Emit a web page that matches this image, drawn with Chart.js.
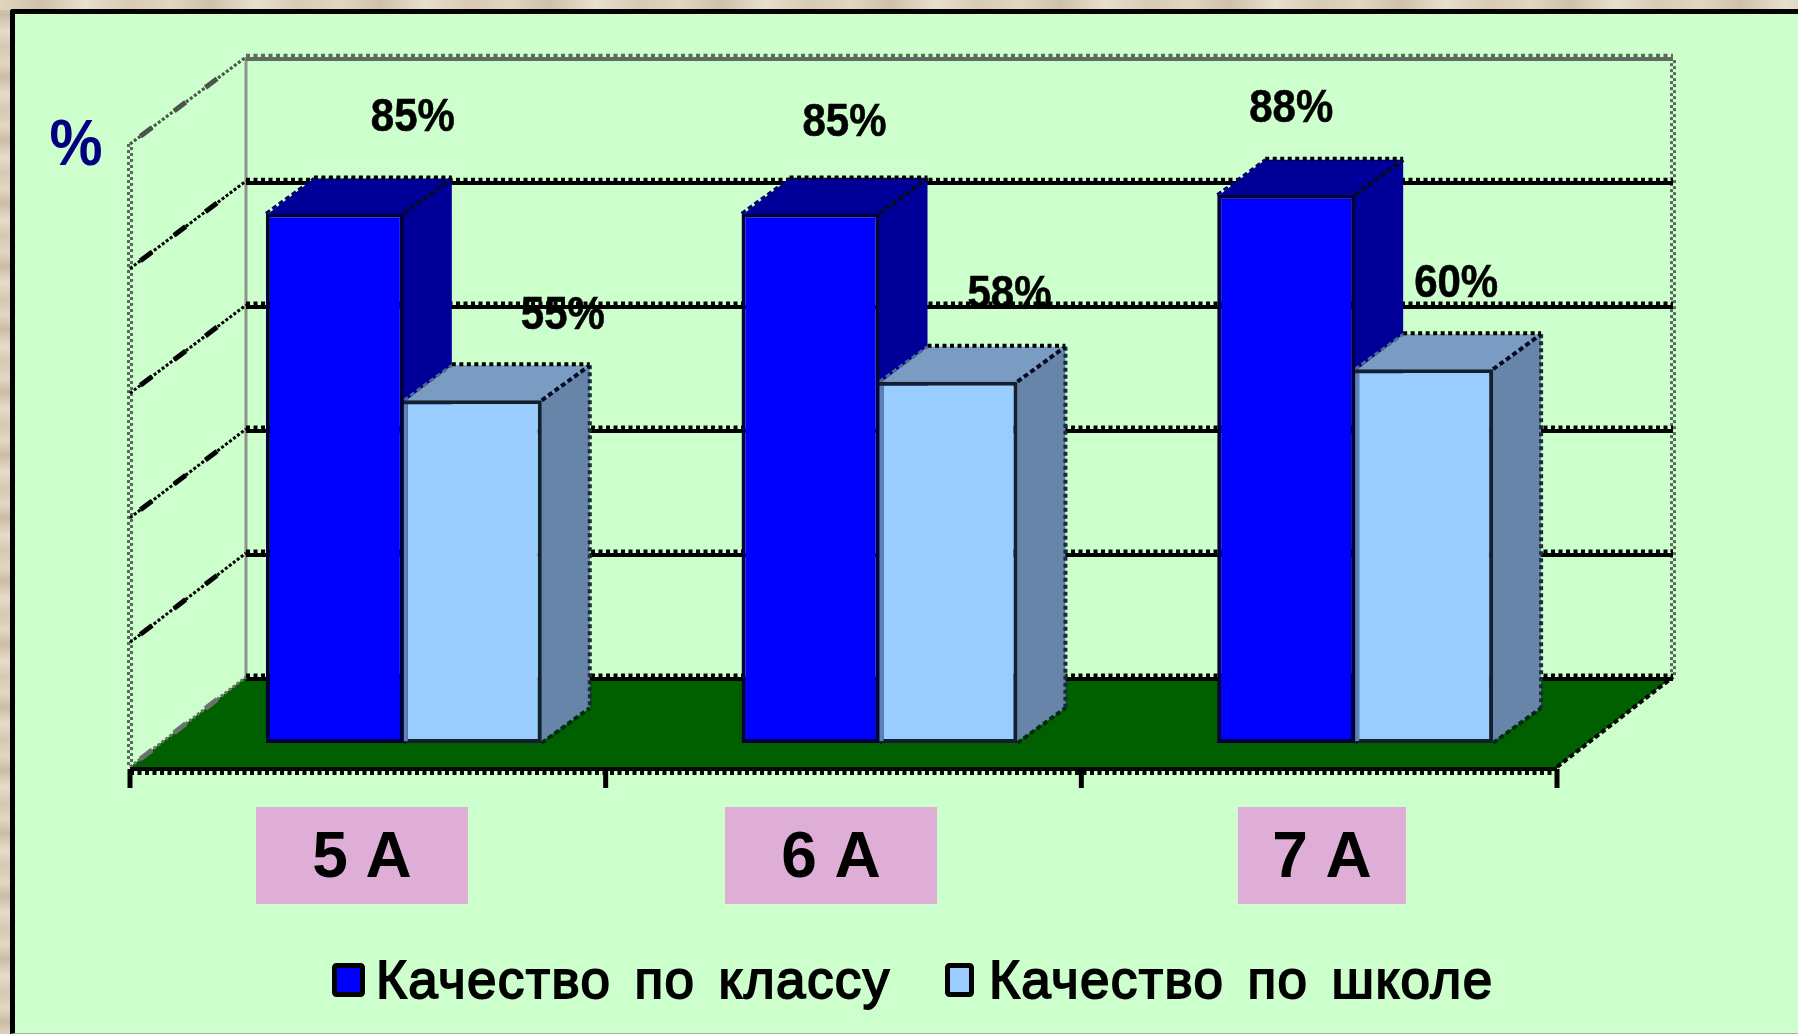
<!DOCTYPE html>
<html lang="ru">
<head>
  <meta charset="UTF-8">
  <title>Качество по классу</title>
  <script src="https://cdn.jsdelivr.net/npm/chart.js"></script>
  <style>
    html, body { margin: 0; height: 100%; overflow: hidden; }
    body {
      background: repeating-linear-gradient(180deg, #e3d7c3 0, #cbbca4 14px, #e6dcca 31px, #d6c8b1 47px, #e3d7c3 63px);
    }
    .top-strip {
      position: absolute;
      left: 0; right: 0; top: 0; height: 10px;
      background: repeating-linear-gradient(90deg, #e2d6c1 0, #cfc1aa 40px, #e8dfce 85px, #d8cab4 130px, #e2d6c1 170px);
    }
    .panel {
      position: absolute;
      left: 10px; top: 9px; right: 0; bottom: 0;
      background: #ccffcc;
      border-left: 5px solid #000;
      border-top: 5px solid #000;
      border-top-left-radius: 3px;
      border-bottom: 1px solid #a4b4a4;
    }
    canvas { position: absolute; left: 0; top: 0; }
  </style>
</head>
<body>
  <div class="top-strip"></div>
  <div class="panel"></div>
  <canvas id="chart" width="1798" height="1034"></canvas>

  <script>
    const categories = ["5 A", "6 A", "7 A"];
    const seriesNames = ["Качество по классу", "Качество по школе"];
    const classValues = [85, 85, 88];
    const schoolValues = [55, 58, 60];
    const gridValues = [0, 20, 40, 60, 80, 100];
    const unitLabel = "%";

    // hand placed things, these sit off the scales in the original slide too
    const classLabelShift = [[78, -95], [34, -90], [5, -85]];
    const schoolLabelShift = [[90, -84], [61, -86], [32, -85]];
    const catBoxes = [[256, 212], [725, 212], [1238, 168]];
    const legendSpots = [[332, 33, 376], [945, 29, 989]];

    const FRONT = { dx: -36, dy: 24 };
    const BACK = { dx: 80, dy: -66 };
    const DEPTH = { dx: 48, dy: -35 };
    const BACK_SQUEEZE = 0.995; // back wall is a touch shorter than the bars plane
    const BLOBS = [0.14, 0.43, 0.70];

    function line(ctx, x1, y1, x2, y2, color, width, dash, dashOffset) {
      ctx.save();
      ctx.strokeStyle = color;
      ctx.lineWidth = width;
      ctx.setLineDash(dash || []);
      ctx.lineDashOffset = dashOffset || 0;
      ctx.beginPath();
      ctx.moveTo(x1, y1);
      ctx.lineTo(x2, y2);
      ctx.stroke();
      ctx.restore();
    }

    function poly(ctx, pts, color) {
      ctx.fillStyle = color;
      ctx.beginPath();
      pts.forEach((p, i) => i ? ctx.lineTo(p[0], p[1]) : ctx.moveTo(p[0], p[1]));
      ctx.closePath();
      ctx.fill();
    }

    // checker column used for the grey box edges
    function checkerLine(ctx, x, y1, y2) {
      line(ctx, x - 1.5, y1, x - 1.5, y2, "#5a6a5e", 3, [3, 3]);
      line(ctx, x + 1.5, y1, x + 1.5, y2, "#5a6a5e", 3, [3, 3], 3);
    }

    // dotted slanted line with the fat spots the old chart has
    function slantLine(ctx, x1, y1, x2, y2, color) {
      line(ctx, x1, y1, x2, y2, color, 3, [3, 2]);
      BLOBS.forEach(f => {
        line(ctx, x1 + (x2 - x1) * (f - 0.05), y1 + (y2 - y1) * (f - 0.05),
                  x1 + (x2 - x1) * (f + 0.05), y1 + (y2 - y1) * (f + 0.05), color, 5);
      });
    }

    function drawWalls(chart) {
      const ctx = chart.ctx;
      const { left, right } = chart.chartArea;
      const y = chart.scales.y;
      const x = chart.scales.x;
      const fl = left + FRONT.dx, fr = right + FRONT.dx;
      const bl = left + BACK.dx, br = right + BACK.dx;
      const y0 = y.getPixelForValue(0);
      const backY = v => y0 + BACK.dy - (y0 - y.getPixelForValue(v)) * BACK_SQUEEZE;
      const frontY = v => y.getPixelForValue(v) + FRONT.dy;

      // frame of the box
      line(ctx, bl, backY(100), bl, backY(0), "#8a948a", 3);
      checkerLine(ctx, fl, frontY(100), frontY(0));
      checkerLine(ctx, br, backY(100), backY(0));

      // floor
      poly(ctx, [[fl, frontY(0)], [fr, frontY(0)], [br, backY(0)], [bl, backY(0)]], "#006000");
      line(ctx, fr, frontY(0), br, backY(0), "#000", 4, [5, 3]);

      gridValues.forEach(v => {
        const py = backY(v);
        const isTop = v === 100;
        const color = isTop ? "#5f6b5f" : "#000";
        line(ctx, bl, py + 2, br, py + 2, color, 4);
        line(ctx, bl, py - 1.7, br, py - 1.7, color, 3.5, [4, 3.5]);
        slantLine(ctx, fl, frontY(v), bl, py, isTop ? "#4a544a" : v === 0 ? "#6a726a" : "#000");
      });

      // axis along the front edge
      const axisY = frontY(0);
      line(ctx, fl, axisY + 2, fr, axisY + 2, "#060606", 4);
      line(ctx, fl, axisY + 6, fr, axisY + 6, "#000", 4, [4, 3.5]);
      const ticks = categories.map((c, i) => x.getPixelForTick(i) - x.width / 6 + FRONT.dx);
      ticks.push(fr);
      ticks.forEach(tx => line(ctx, tx, axisY + 2, tx, axisY + 21, "#000", 5));
    }

    function drawBox(chart, dsIndex, sideColor, topColor) {
      const ctx = chart.ctx;
      chart.getDatasetMeta(dsIndex).data.forEach(bar => {
        const p = bar.getProps(["x", "y", "base", "width"], true);
        const l = p.x - p.width / 2, r = p.x + p.width / 2;
        const d = DEPTH;
        // start a bit under the front face so the grid does not show in the seam
        poly(ctx, [[r - 2, p.y], [r + d.dx, p.y + d.dy], [r + d.dx, p.base + d.dy], [r - 2, p.base]], sideColor);
        poly(ctx, [[l, p.y + 2], [l + d.dx, p.y + d.dy], [r + d.dx, p.y + d.dy], [r, p.y + 2]], topColor);
        line(ctx, l + d.dx, p.y + d.dy - 1, r + d.dx, p.y + d.dy - 1, "#000", 4, [4, 3.5]);
        if (dsIndex) line(ctx, r + d.dx, p.y + d.dy, r + d.dx, p.base + d.dy, "#1a2a3a", 4, [4, 3]);
        line(ctx, r, p.y, r + d.dx, p.y + d.dy, "#050a20", 4, [5, 3]);
        line(ctx, l, p.y, l + d.dx, p.y + d.dy, dsIndex ? "#4e6c8c" : "#00006a", 3, [5, 3]);
        line(ctx, r, p.base, r + d.dx, p.base + d.dy, "#002a12", 4, [5, 3]);
      });
    }

    // steel coloured left edge of the pale bars
    function drawBarEdges(chart) {
      const ctx = chart.ctx;
      chart.getDatasetMeta(1).data.forEach(bar => {
        const p = bar.getProps(["x", "y", "base", "width"], true);
        const l = p.x - p.width / 2;
        line(ctx, l + 2, p.y + 4, l + 2, p.base - 2, "#5f82b4", 4);
      });
    }

    function drawValueLabels(chart, dsIndex, values, shifts) {
      const ctx = chart.ctx;
      ctx.save();
      ctx.font = "bold 46px 'Liberation Sans'";
      ctx.fillStyle = "#000";
      ctx.strokeStyle = "#000";
      ctx.lineWidth = 0.6;
      ctx.textAlign = "center";
      ctx.textBaseline = "middle";
      chart.getDatasetMeta(dsIndex).data.forEach((bar, i) => {
        const p = bar.getProps(["x", "y"], true);
        const text = values[i] + "%";
        ctx.fillText(text, p.x + shifts[i][0], p.y + shifts[i][1], 84);
        ctx.strokeText(text, p.x + shifts[i][0], p.y + shifts[i][1], 84);
      });
      ctx.restore();
    }

    function drawOverlays(chart) {
      const ctx = chart.ctx;
      ctx.save();
      // category captions
      categories.forEach((c, i) => {
        const [bx, bw] = catBoxes[i];
        ctx.fillStyle = "#deaed6";
        ctx.fillRect(bx, 807, bw, 97);
        ctx.fillStyle = "#000";
        ctx.font = "bold 64px 'Liberation Sans'";
        ctx.textAlign = "center";
        ctx.textBaseline = "middle";
        ctx.fillText(c, bx + bw / 2, 859);
      });

      // unit
      ctx.fillStyle = "#000080";
      ctx.font = "bold 64px 'Liberation Sans'";
      ctx.textAlign = "center";
      ctx.fillText(unitLabel, 76, 147, 53);

      // legend
      ctx.textAlign = "left";
      ctx.textBaseline = "alphabetic";
      ctx.font = "53px 'Liberation Sans'";
      ctx.wordSpacing = "7px";
      ctx.letterSpacing = "1.4px";
      chart.data.datasets.forEach((ds, i) => {
        const [sx, sw, tx] = legendSpots[i];
        ctx.fillStyle = ds.backgroundColor;
        ctx.strokeStyle = "#000";
        ctx.lineWidth = 5;
        ctx.beginPath();
        ctx.roundRect(sx + 2.5, 965.5, sw - 5, 29, 2);
        ctx.fill();
        ctx.stroke();
        ctx.fillStyle = "#000";
        ctx.lineWidth = 1.8;
        ctx.fillText(ds.label, tx, 998);
        ctx.strokeText(ds.label, tx, 998);
      });
      ctx.restore();
    }

    const slide3d = {
      id: "slide3d",
      beforeDatasetsDraw(chart) {
        drawWalls(chart);
        drawBox(chart, 0, "#000099", "#000099");
        drawBox(chart, 1, "#6685a8", "#7a9cc2");
      },
      afterDatasetsDraw(chart) {
        drawBarEdges(chart);
        drawValueLabels(chart, 0, classValues, classLabelShift);
        drawValueLabels(chart, 1, schoolValues, schoolLabelShift);
        drawOverlays(chart);
      }
    };

    new Chart(document.getElementById("chart"), {
      type: "bar",
      data: {
        labels: categories,
        datasets: [
          { label: seriesNames[0], data: classValues, backgroundColor: "#0000ff", borderColor: "#00003a", borderWidth: 4, borderSkipped: false },
          { label: seriesNames[1], data: schoolValues, backgroundColor: "#99ccff", borderColor: "#14202f", borderWidth: 4, borderSkipped: false }
        ]
      },
      options: {
        responsive: false,
        animation: false,
        layout: { padding: { left: 166, right: 205, top: 120, bottom: 291 } },
        datasets: { bar: { categoryPercentage: 0.58, barPercentage: 1 } },
        plugins: { legend: { display: false }, tooltip: { enabled: false } },
        scales: {
          x: { display: false },
          y: { display: false, min: 0, max: 100 }
        }
      },
      plugins: [slide3d]
    });
  </script>
</body>
</html>
